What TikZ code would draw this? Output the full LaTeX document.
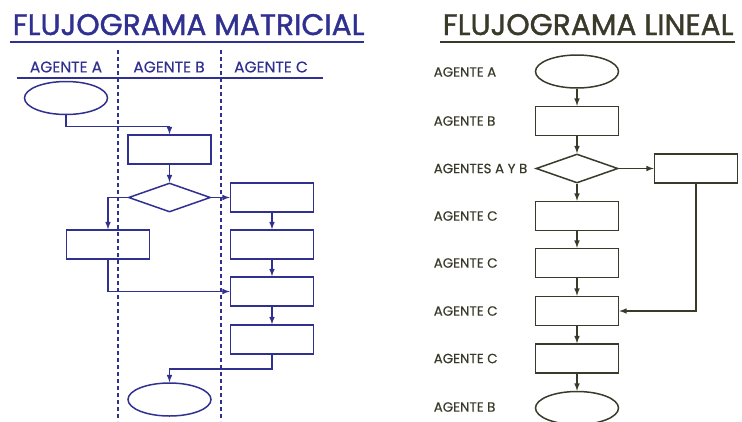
\documentclass[tikz,border=0pt]{standalone}
\usepackage{fontspec}
\setmainfont{Poppins}
\newfontfamily\gruesa{Poppins}[FakeBold=1.2]
\newfontfamily\media{Poppins}[FakeBold=0.4]
\usepackage{tikz}
\usetikzlibrary{shapes,backgrounds}
\definecolor{azul}{RGB}{48,48,145}
\definecolor{oliva}{RGB}{58,58,42}

\begin{document}
\begin{tikzpicture}[x=1pt,y=-1pt,>=latex]%[show background grid]
\tikzstyle{caja}=[draw,rectangle,minimum width=83pt,minimum height=29pt,inner sep=0pt]
\tikzstyle{terminal}=[draw,ellipse,minimum width=83pt,minimum height=33pt,inner sep=0pt]
\tikzstyle{decision}=[draw,diamond,minimum width=82pt,minimum height=29pt,inner sep=0pt]
\tikzstyle{titulo}=[anchor=base west,inner sep=0pt,font=\gruesa\fontsize{29.7}{30}\selectfont]
\tikzstyle{cabecera}=[inner sep=0pt,font=\media\fontsize{15.5}{16}\selectfont]
\tikzstyle{agente}=[inner sep=0pt,font=\media\fontsize{13.4}{14}\selectfont]
\useasboundingbox (0,0) rectangle (742,421);

% flujograma matricial
\begin{scope}[azul,line width=1.5pt]
\path (12,35) node[titulo] (tmat) {FLUJOGRAMA MATRICIAL};
\draw (tmat.base west) ++(-2,7) -- ++(354,0);
\path (66,67) node[cabecera] (hA) {AGENTE A};
\path (169,67) node[cabecera] (hB) {AGENTE B};
\path (271,67) node[cabecera] (hC) {AGENTE C};
\draw (17,78) -- (323,78);
\draw[line width=1.1pt,dash pattern=on 4pt off 3pt] (118,50) -- (118,421);
\draw[line width=1.1pt,dash pattern=on 4pt off 3pt] (221,50) -- (221,421);

\path (66,98) node[terminal] (iniA) {};
\path (169.5,149.5) node[caja] (b1) {};
\path (169.5,197.5) node[decision] (dec) {};
\path (108,244.5) node[caja] (a1) {};
\path (272,197.5) node[caja] (c1) {};
\path (272,244.5) node[caja] (c2) {};
\path (272,291.5) node[caja] (c3) {};
\path (272,339.5) node[caja] (c4) {};
\path (169.5,399.5) node[terminal] (finA) {};

\draw[->] (iniA.south) -- ++(0,11) -| (b1.north);
\draw[->] (b1) -- (dec);
\draw[->] (dec.west) -| (a1.north);
\draw[->] (dec.east) -- (c1.west);
\draw[->] (c1) -- (c2);
\draw[->] (c2) -- (c3);
\draw[->] (a1.south) |- (c3.west);
\draw[->] (c3) -- (c4);
\draw[->] (c4.south) -- ++(0,14) -| (finA.north);
\end{scope}

% flujograma lineal
\begin{scope}[oliva,line width=1.5pt]
\path (442,35) node[titulo] (tlin) {FLUJOGRAMA LINEAL};
\draw (tlin.base west) ++(-2,7) -- ++(295,0);

\path (577,71.5) node[terminal] (ini) {};
\path (577,121) node[caja] (rb) {};
\path (577,168.5) node[decision] (rd) {};
\path (696,168.5) node[caja] (rx) {};
\path (577,216) node[caja] (rc1) {};
\path (577,263) node[caja] (rc2) {};
\path (577,311) node[caja] (rc3) {};
\path (577,358.5) node[caja] (rc4) {};
\path (577,408) node[terminal] (fin) {};

\path (433,72) node[agente,anchor=west] (lA) {AGENTE A};
\path (433,121) node[agente,anchor=west] (lB) {AGENTE B};
\path (433,168.5) node[agente,anchor=west] (lAB) {AGENTES A Y B};
\path (433,216) node[agente,anchor=west] (lC1) {AGENTE C};
\path (433,263) node[agente,anchor=west] (lC2) {AGENTE C};
\path (433,311) node[agente,anchor=west] (lC3) {AGENTE C};
\path (433,358.5) node[agente,anchor=west] (lC4) {AGENTE C};
\path (433,407) node[agente,anchor=west] (lB2) {AGENTE B};

\draw[->] (ini) -- (rb);
\draw[->] (rb) -- (rd);
\draw[->] (rd.east) -- (rx.west);
\draw[->] (rd) -- (rc1);
\draw[->] (rc1) -- (rc2);
\draw[->] (rc2) -- (rc3);
\draw[->] (rx.south) |- (rc3.east);
\draw[->] (rc3) -- (rc4);
\draw[->] (rc4) -- (fin);
\end{scope}

\end{tikzpicture}
\end{document}
